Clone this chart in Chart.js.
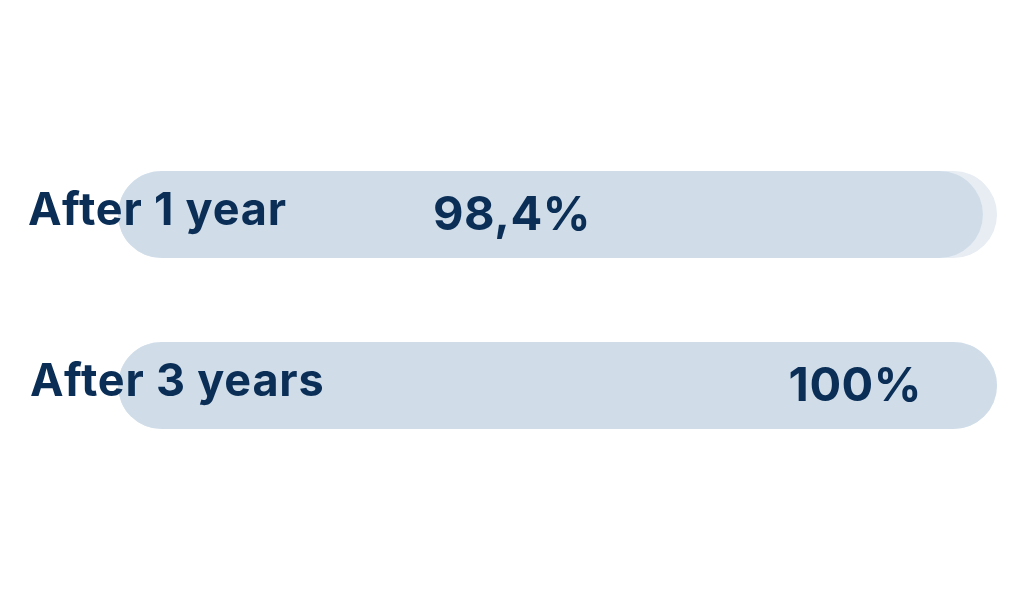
<!DOCTYPE html>
<html>
<head>
<meta charset="utf-8">
<script src="https://cdn.jsdelivr.net/npm/chart.js@4/dist/chart.umd.min.js"></script>
<style>
html,body{margin:0;padding:0;background:#fff;}
#wrap{width:1024px;height:600px;}
</style>
</head>
<body>
<div id="wrap"><canvas id="c" width="1024" height="600"></canvas></div>
<script>
const categories = ['After 1 year', 'After 3 years'];
const values = [98.4, 100];
const trackValues = [100, 100];
const valueLabels = ['98,4%', '100%'];

const TEXT = '#0a2e56';
const FONT = 'Inter, "DejaVu Sans", sans-serif';

const labelPlugin = {
  id: 'labels',
  afterDatasetsDraw(chart) {
    const ctx = chart.ctx;
    const yScale = chart.scales.y;
    const meta = chart.getDatasetMeta(1);
    ctx.save();
    ctx.fillStyle = TEXT;
    ctx.textBaseline = 'middle';
    // category labels
    ctx.font = '700 45px ' + FONT;
    ctx.textAlign = 'left';
    ctx.letterSpacing = '0.8px';
    categories.forEach((c, i) => {
      ctx.fillText(c, i === 0 ? 28 : 30, yScale.getPixelForValue(i) - 3);
    });
    // value labels
    ctx.letterSpacing = '0.5px';
    ctx.font = '700 47px ' + FONT;
    meta.data.forEach((bar, i) => {
      const y = bar.y + 1;
      if (i === 0) {
        ctx.textAlign = 'center';
        ctx.fillText(valueLabels[i], 512, y);
      } else {
        ctx.textAlign = 'right';
        ctx.fillText(valueLabels[i], bar.x - 75, y);
      }
    });
    ctx.restore();
  }
};

new Chart(document.getElementById('c'), {
  type: 'bar',
  data: {
    labels: categories,
    datasets: [
      {
        label: 'track',
        data: trackValues,
        backgroundColor: '#e7edf3',
        borderRadius: 44,
        borderSkipped: false,
        grouped: false,
        order: 2,
        barPercentage: 1,
        categoryPercentage: 0.509
      },
      {
        label: 'value',
        data: values,
        backgroundColor: '#d0dde9',
        borderRadius: 44,
        borderSkipped: false,
        grouped: false,
        order: 1,
        barPercentage: 1,
        categoryPercentage: 0.509
      }
    ]
  },
  options: {
    indexAxis: 'y',
    responsive: false,
    animation: false,
    layout: { padding: { left: 118, right: 27, top: 129, bottom: 129 } },
    plugins: { legend: { display: false }, tooltip: { enabled: false } },
    scales: {
      x: { min: 0, max: 100, display: false },
      y: { display: false }
    }
  },
  plugins: [labelPlugin]
});
</script>
</body>
</html>
